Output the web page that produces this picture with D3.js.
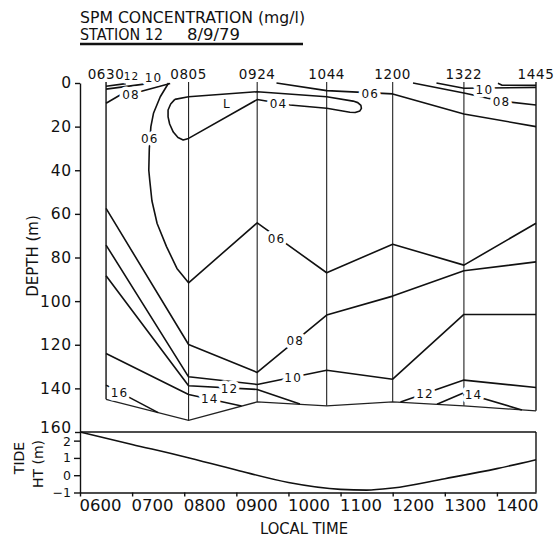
<!DOCTYPE html>
<html>
<head>
<meta charset="utf-8">
<script src="https://cdn.jsdelivr.net/npm/d3@7"></script>
<style>
  body { margin: 0; background: #fff; }
  svg { display: block; }
  text { font-family: "DejaVu Sans", sans-serif; fill: #111; }
</style>
</head>
<body>
<svg id="chart" width="554" height="538"></svg>
<script>
// ---- Station casts (decimal hours), their labels and bottom depth (m) ----
const stationTimes  = [6.5, 8 + 5 / 60, 9.4, 10 + 44 / 60, 12, 13 + 22 / 60, 14.75];
const stationLabels = ["0630", "0805", "0924", "1044", "1200", "1322", "1445"];
const bottomDepths  = [145, 154.7, 146.2, 148, 146.2, 148, 150.3];

// ---- Axis ticks ----
const depthTicks = [0, 20, 40, 60, 80, 100, 120, 140, 160];
const timeTicks = [6, 7, 8, 9, 10, 11, 12, 13, 14];
const timeTickLabels = ["0600", "0700", "0800", "0900", "1000", "1100", "1200", "1300", "1400"];
const tideTicks = [2, 1, 0, -1];

// ---- Tide height (m) ----
const tideTimes   = [6.0, 7, 8, 9, 10, 11, 11.5, 12, 13, 14, 14.75];
const tideHeights = [2.5, 1.78, 1.07, 0.3, -0.42, -0.82, -0.86, -0.74, -0.2, 0.38, 0.9];

// ---- SPM isolines, [time (h), depth (m)] ----
const c06West = [[7.70, 0], [7.54, 6.3], [7.41, 13.9], [7.36, 20], [7.33, 30], [7.32, 40],
  [7.34, 45], [7.38, 54], [7.48, 64.4], [7.66, 75], [7.86, 85], [8 + 5 / 60, 91.6],
  [9.4, 64.1], [10 + 44 / 60, 87], [12, 73.9], [13 + 22 / 60, 83.5], [14.75, 64.3]];
const c06Surface = [[9.77, 0], [10 + 44 / 60, 3.5], [12, 5.0], [13 + 22 / 60, 14.2], [14.75, 20]];
const c04Loop = [[7.82, 7.5], [8 + 5 / 60, 6.3], [9.4, 4.0], [10 + 44 / 60, 6.3], [11.24, 8.3],
  [11.33, 9.0], [11.39, 10.3], [11.40, 11.6], [11.37, 12.8], [11.28, 13.5], [11.18, 13.4],
  [10 + 44 / 60, 11.6], [10.03, 10.1], [9.4, 7.6], [8 + 5 / 60, 25.4], [7.98, 26.1],
  [7.88, 25.0], [7.79, 22.5], [7.72, 18.8], [7.69, 15.5], [7.69, 12.4], [7.74, 9.6], [7.82, 7.5]];
const c08Surface = [[6.5, 9.3], [6.82, 4.8], [7.18, 3.8], [7.73, 0.2]];
const c08Deep = [[6.5, 57.5], [8 + 5 / 60, 119.9], [9.4, 132.7], [10 + 44 / 60, 106.4],
  [12, 97.7], [13 + 22 / 60, 86.1], [14.75, 82]];
const c08East = [[12.39, 0], [13 + 22 / 60, 4.6], [14.09, 8.3], [14.75, 10.1]];
const c10Surface = [[6.5, 2.8], [7.30, 0.3]];
const c10Deep = [[6.5, 74.3], [8 + 5 / 60, 134.7], [9.4, 138.2], [10 + 44 / 60, 131.7],
  [12, 135.8], [13 + 22 / 60, 106.1], [14.75, 106.1]];
const c10East = [[12.84, 0], [13 + 22 / 60, 2.4], [14.75, 2.0]];
const c12Surface = [[6.5, 1.5], [6.88, 0.3]];
const c12East = [[14.02, 0.1], [14.1, 1.0], [14.75, 1.0]];
const c12Deep = [[6.5, 88.4], [8 + 5 / 60, 138.8], [9.4, 140.5], [10.22, 147.2]];
const c12DeepEast = [[12.15, 146.3], [13 + 22 / 60, 136.2], [14.75, 139.6]];
const c14Deep = [[6.5, 124], [8 + 5 / 60, 142.8], [9.1, 148.1]];
const c14DeepEast = [[12.85, 147.3], [13 + 22 / 60, 142], [14.48, 149.9]];
const c16Deep = [[6.5, 138.5], [7.5, 151.1]];

const isolines = [c06West, c06Surface, c04Loop, c08Surface, c08Deep, c08East, c10Surface,
  c10Deep, c10East, c12Surface, c12East, c12Deep, c12DeepEast, c14Deep, c14DeepEast, c16Deep];

// Isoline labels: text with the [time, depth] it sits at
const isoLabelText = ["06", "06", "06", "04", "L", "08", "08", "08", "10", "10", "10", "12", "12", "12", "14", "14", "16"];
const isoLabelAt = [[7.34, 25.5], [9.77, 71.2], [11.57, 5.0], [9.81, 9.6], [8.82, 9.5],
  [6.98, 5.2], [10.13, 118.3], [14.09, 8.6], [7.41, -2.6], [10.09, 135.2], [13.76, 3.0],
  [6.99, -3.2], [8.87, 140.1], [12.62, 142.4], [8.49, 144.9], [13.55, 143.1], [6.76, 141.8]];

// ---- Layout ----
const svg = d3.select("#chart");
const x = d3.scaleLinear().domain([6, 14.75]).range([80, 536]);
const y = d3.scaleLinear().domain([0, 160]).range([83, 432]);
const yTide = d3.scaleLinear().domain([-1, 2.5]).range([492.5, 432]);

// Title block
svg.append("text").attr("x", 80).attr("y", 23).attr("font-size", 16.5)
  .attr("textLength", 225).attr("lengthAdjust", "spacingAndGlyphs")
  .text("SPM CONCENTRATION (mg/l)");
svg.append("text").attr("x", 80).attr("y", 39.5).attr("font-size", 16)
  .attr("textLength", 83).attr("lengthAdjust", "spacingAndGlyphs").text("STATION 12");
svg.append("text").attr("x", 187).attr("y", 39.5).attr("font-size", 16)
  .attr("textLength", 53).attr("lengthAdjust", "spacingAndGlyphs").text("8/9/79");
svg.append("line").attr("x1", 80).attr("x2", 303).attr("y1", 44).attr("y2", 44)
  .attr("stroke", "#111").attr("stroke-width", 2.3);

// Station cast verticals
svg.append("g").selectAll("line").data(stationTimes).join("line")
  .attr("x1", d => x(d)).attr("x2", d => x(d))
  .attr("y1", y(-0.5)).attr("y2", (d, i) => y(bottomDepths[i]))
  .attr("stroke", "#222").attr("stroke-width", (d, i) => i === 0 || i === 6 ? 1.5 : 1.1);

// Sea floor
const line = d3.line().x(d => x(d[0])).y(d => y(d[1]));
svg.append("path").attr("d", line(stationTimes.map((t, i) => [t, bottomDepths[i]])))
  .attr("fill", "none").attr("stroke", "#222").attr("stroke-width", 1.3);

// Isolines
svg.append("g").selectAll("path").data(isolines).join("path")
  .attr("d", line).attr("fill", "none").attr("stroke", "#111")
  .attr("stroke-width", 1.6).attr("stroke-linejoin", "round");

// Isoline labels (white halo breaks the line under the text)
svg.append("g").selectAll("text").data(isoLabelText).join("text")
  .attr("x", (d, i) => x(isoLabelAt[i][0])).attr("y", (d, i) => y(isoLabelAt[i][1]))
  .attr("dy", "0.36em").attr("text-anchor", "middle")
  .attr("font-size", (d, i) => i === 11 ? 10.5 : 12).attr("letter-spacing", 1.2)
  .attr("stroke", "#fff").attr("stroke-width", 7).attr("stroke-linejoin", "round")
  .attr("paint-order", "stroke")
  .text(d => d);

// Station time labels
svg.append("g").selectAll("text").data(stationLabels).join("text")
  .attr("x", (d, i) => x(stationTimes[i])).attr("y", 79)
  .attr("text-anchor", "middle").attr("font-size", 13.5).attr("letter-spacing", 0.6)
  .text(d => d);

// Depth axis
const depthAxis = svg.append("g").attr("transform", "translate(80,0)")
  .call(d3.axisLeft(y).tickValues(depthTicks).tickSize(5).tickSizeOuter(0).tickPadding(3));
depthAxis.selectAll("text").attr("font-size", 15.5).attr("letter-spacing", 0.8)
  .attr("font-family", "DejaVu Sans").attr("fill", "#111");
depthAxis.selectAll("line,path").attr("stroke", "#111").attr("stroke-width", 1.4);
depthAxis.selectAll(".tick").filter(d => d === 160).select("text").attr("dy", "0em");

// Panel divider at the 160 m line
svg.append("line").attr("x1", x(6)).attr("x2", x(14.75)).attr("y1", y(160)).attr("y2", y(160))
  .attr("stroke", "#111").attr("stroke-width", 1.6);

// Tide panel
const tideAxis = svg.append("g").attr("transform", "translate(80,0)")
  .call(d3.axisLeft(yTide).tickValues(tideTicks).tickSize(6).tickSizeOuter(0).tickPadding(3)
    .tickFormat(d3.format("d")));
tideAxis.selectAll("text").attr("font-size", 12.5).attr("font-family", "DejaVu Sans").attr("fill", "#111");
tideAxis.selectAll("line,path").attr("stroke", "#111").attr("stroke-width", 1.4);
tideAxis.selectAll(".tick").filter(d => d === 2).select("text").attr("dy", "0.42em");

svg.append("line").attr("x1", x(14.75)).attr("x2", x(14.75))
  .attr("y1", yTide(2.5)).attr("y2", yTide(-1)).attr("stroke", "#111").attr("stroke-width", 1.4);

// Hour labels start at their tick
const timeAxis = svg.append("g").attr("transform", `translate(0,${yTide(-1)})`)
  .call(d3.axisBottom(x).tickValues(timeTicks).tickFormat((d, i) => timeTickLabels[i])
    .tickSize(4).tickSizeOuter(0).tickPadding(3));
timeAxis.selectAll("text").attr("font-size", 16.5).attr("font-family", "DejaVu Sans")
  .attr("text-anchor", "start").attr("x", -1).attr("fill", "#111");
timeAxis.selectAll("line,path").attr("stroke", "#111").attr("stroke-width", 1.4);

const tideLine = d3.line().x(d => x(d[0])).y(d => yTide(d[1])).curve(d3.curveMonotoneX);
svg.append("path").attr("d", tideLine(tideTimes.map((t, i) => [t, tideHeights[i]])))
  .attr("fill", "none").attr("stroke", "#111").attr("stroke-width", 1.6);

// Axis titles
svg.append("text").attr("transform", "translate(38,256) rotate(-90)")
  .attr("text-anchor", "middle").attr("font-size", 15).text("DEPTH (m)");
svg.append("text").attr("transform", "translate(24,458) rotate(-90)")
  .attr("text-anchor", "middle").attr("font-size", 14).text("TIDE");
svg.append("text").attr("transform", "translate(43,464) rotate(-90)")
  .attr("text-anchor", "middle").attr("font-size", 14).text("HT (m)");
svg.append("text").attr("x", 304).attr("y", 534).attr("text-anchor", "middle")
  .attr("font-size", 15).attr("textLength", 88).attr("lengthAdjust", "spacingAndGlyphs")
  .text("LOCAL TIME");
</script>
</body>
</html>
